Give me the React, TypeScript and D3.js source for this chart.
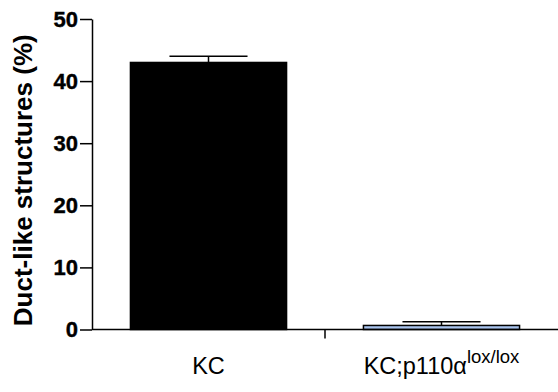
import React, { useEffect, useRef } from 'react';
import * as d3 from 'd3';

// data
const categories = ['KC', 'KC;p110α'];
const superscripts = ['', 'lox/lox'];
const means = [43.0, 0.65];
const sems = [1.0, 0.6];
const barColors = ['#000000', '#a9c4ee'];
const yTicks = [0, 10, 20, 30, 40, 50];
const yTitle = 'Duct-like structures (%)';

export default function App() {
  const ref = useRef<SVGSVGElement>(null);

  useEffect(() => {
    const width = 558;
    const height = 392;
    const margin = { top: 19, right: 0, bottom: 62.5, left: 92 };
    const font = '"Liberation Sans", Arial, sans-serif';

    const svg = d3.select(ref.current);
    svg.selectAll('*').remove();

    const x = d3
      .scaleBand()
      .domain(categories)
      .range([margin.left, width - margin.right])
      .paddingInner(0.33)
      .paddingOuter(0.165);

    const y = d3
      .scaleLinear()
      .domain([0, 50])
      .range([height - margin.bottom, margin.top]);

    const data = categories.map((c, i) => ({ c, m: means[i], e: sems[i], col: barColors[i] }));

    // bars
    svg
      .append('g')
      .selectAll('rect')
      .data(data)
      .join('rect')
      .attr('x', (d) => x(d.c)!)
      .attr('y', (d) => y(d.m))
      .attr('width', x.bandwidth())
      .attr('height', (d) => y(0) - y(d.m))
      .attr('fill', (d) => d.col)
      .attr('stroke', '#000')
      .attr('stroke-width', 1.5);

    // error bars (upper only)
    const err = svg.append('g').attr('stroke', '#000').attr('stroke-width', 1.5);
    data.forEach((d) => {
      const cx = x(d.c)! + x.bandwidth() / 2;
      const hw = x.bandwidth() / 4;
      err.append('line').attr('x1', cx).attr('x2', cx).attr('y1', y(d.m)).attr('y2', y(d.m + d.e));
      err
        .append('line')
        .attr('x1', cx - hw)
        .attr('x2', cx + hw)
        .attr('y1', y(d.m + d.e))
        .attr('y2', y(d.m + d.e));
    });

    // y axis
    const yAxis = svg
      .append('g')
      .attr('transform', `translate(${margin.left},0)`)
      .call(d3.axisLeft(y).tickValues(yTicks).tickSize(12).tickSizeOuter(0).tickPadding(2));
    yAxis.selectAll('path, line').attr('stroke', '#000').attr('stroke-width', 1.5);
    yAxis
      .selectAll('text')
      .attr('fill', '#000')
      .attr('stroke', '#000')
      .attr('stroke-width', 0.4)
      .style('font-family', font)
      .style('font-weight', 'bold')
      .style('font-size', '22px');

    // x axis: baseline plus a tick between the groups
    const y0 = y(0);
    const xa = svg.append('g').attr('stroke', '#000').attr('stroke-width', 1.5);
    xa.append('line').attr('x1', margin.left).attr('x2', width).attr('y1', y0).attr('y2', y0);
    const c0 = x(categories[0])! + x.bandwidth() / 2;
    const c1 = x(categories[1])! + x.bandwidth() / 2;
    const mid = (c0 + c1) / 2;
    xa.append('line').attr('x1', mid).attr('x2', mid).attr('y1', y0).attr('y2', y0 + 9);

    const labels = svg
      .append('g')
      .selectAll('text')
      .data(categories)
      .join('text')
      .attr('x', (d) => x(d)! + x.bandwidth() / 2)
      .attr('y', 374)
      .attr('text-anchor', 'middle')
      .style('font-family', font)
      .style('font-size', '23.5px')
      .attr('fill', '#000');
    labels.append('tspan').text((d) => d);
    labels
      .append('tspan')
      .attr('dy', -11)
      .style('font-size', '18.5px')
      .text((d, i) => superscripts[i]);

    // y title
    svg
      .append('text')
      .attr('transform', `translate(32,${(y(0) + y(50)) / 2 + 6}) rotate(-90)`)
      .attr('text-anchor', 'middle')
      .style('font-family', font)
      .style('font-weight', 'bold')
      .style('font-size', '26px')
      .attr('fill', '#000')
      .text(yTitle);
  });

  return (
    <svg
      ref={ref}
      width={558}
      height={392}
      style={{ position: 'absolute', left: 0, top: 0, background: '#fff' }}
    />
  );
}
